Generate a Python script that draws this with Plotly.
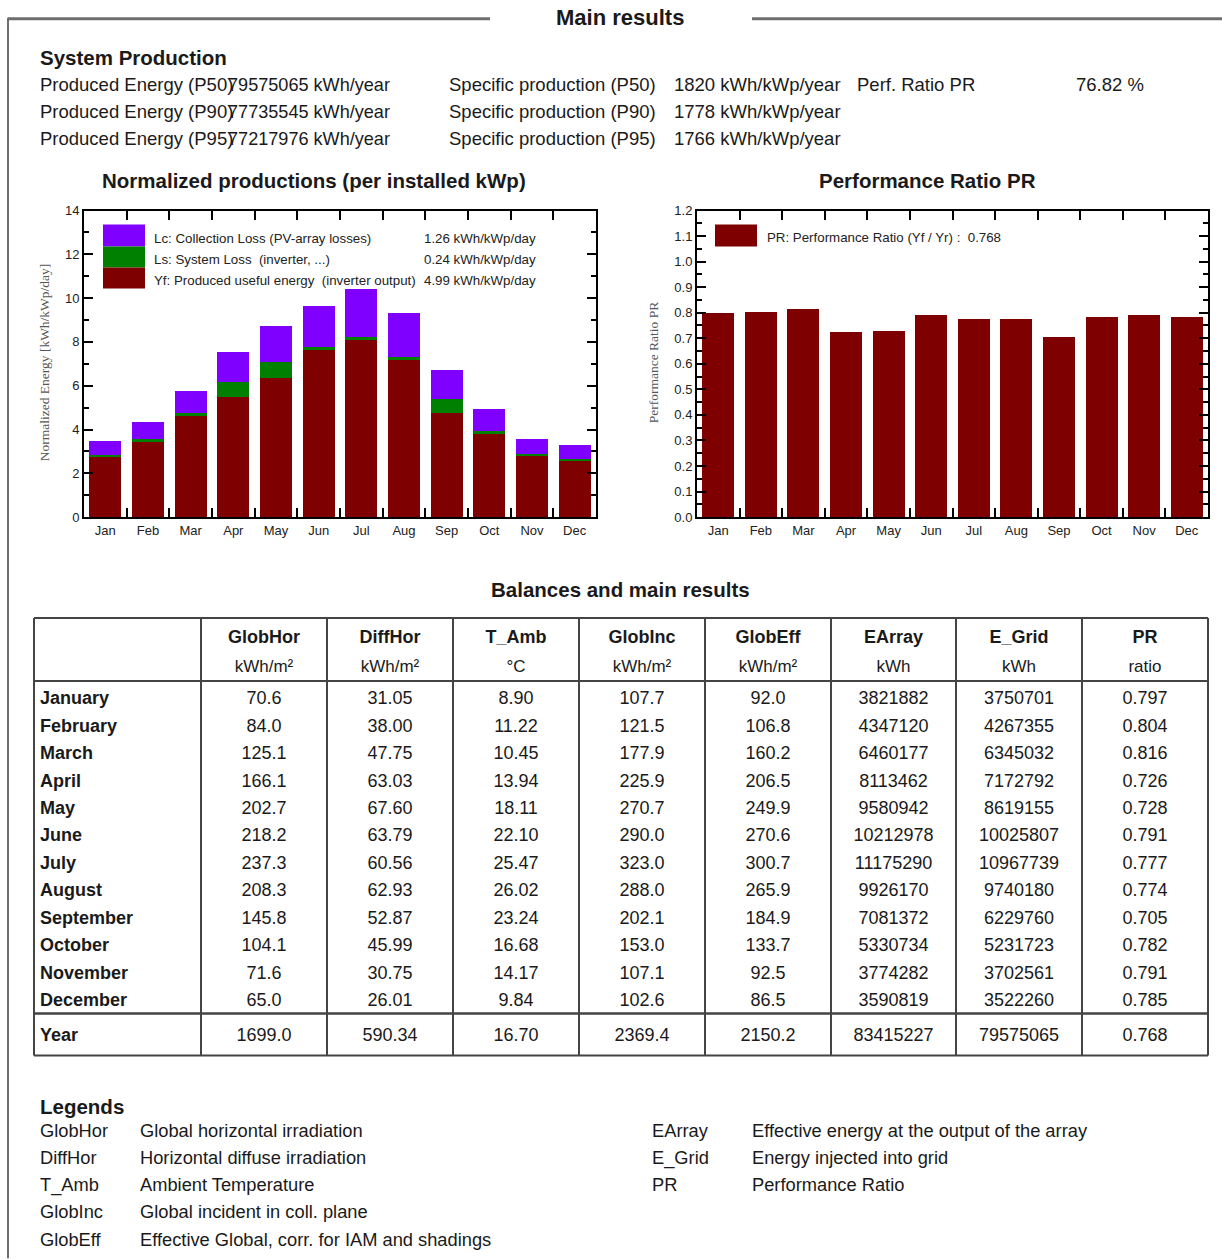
import plotly.graph_objects as go

# ---------------- data ----------------
months_short = ["Jan", "Feb", "Mar", "Apr", "May", "Jun", "Jul", "Aug", "Sep", "Oct", "Nov", "Dec"]
months_long = ["January", "February", "March", "April", "May", "June", "July",
               "August", "September", "October", "November", "December"]

# normalized productions [kWh/kWp/day]
yf_produced = [2.77, 3.49, 4.68, 5.47, 6.36, 7.64, 8.09, 7.19, 4.75, 3.86, 2.82, 2.60]
ls_system_loss = [0.05, 0.07, 0.09, 0.72, 0.71, 0.14, 0.15, 0.14, 0.65, 0.07, 0.05, 0.05]
lc_collection_loss = [0.65, 0.79, 0.97, 1.34, 1.66, 1.88, 2.17, 1.97, 1.34, 1.00, 0.69, 0.66]

# balances table
glob_hor = [70.6, 84.0, 125.1, 166.1, 202.7, 218.2, 237.3, 208.3, 145.8, 104.1, 71.6, 65.0]
diff_hor = [31.05, 38.00, 47.75, 63.03, 67.60, 63.79, 60.56, 62.93, 52.87, 45.99, 30.75, 26.01]
t_amb = [8.90, 11.22, 10.45, 13.94, 18.11, 22.10, 25.47, 26.02, 23.24, 16.68, 14.17, 9.84]
glob_inc = [107.7, 121.5, 177.9, 225.9, 270.7, 290.0, 323.0, 288.0, 202.1, 153.0, 107.1, 102.6]
glob_eff = [92.0, 106.8, 160.2, 206.5, 249.9, 270.6, 300.7, 265.9, 184.9, 133.7, 92.5, 86.5]
e_array = [3821882, 4347120, 6460177, 8113462, 9580942, 10212978, 11175290, 9926170,
           7081372, 5330734, 3774282, 3590819]
e_grid = [3750701, 4267355, 6345032, 7172792, 8619155, 10025807, 10967739, 9740180,
          6229760, 5231723, 3702561, 3522260]
pr_ratio = [0.797, 0.804, 0.816, 0.726, 0.728, 0.791, 0.777, 0.774, 0.705, 0.782, 0.791, 0.785]
year_totals = [1699.0, 590.34, 16.70, 2369.4, 2150.2, 83415227, 79575065, 0.768]

col_names = ["GlobHor", "DiffHor", "T_Amb", "GlobInc", "GlobEff", "EArray", "E_Grid", "PR"]
col_units = ["kWh/m²", "kWh/m²", "°C", "kWh/m²", "kWh/m²", "kWh", "kWh", "ratio"]
col_formats = [".1f", ".2f", ".2f", ".1f", ".1f", "d", "d", ".3f"]

# system production summary
prod_labels = ["Produced Energy (P50)", "Produced Energy (P90)", "Produced Energy (P95)"]
prod_values = ["79575065 kWh/year", "77735545 kWh/year", "77217976 kWh/year"]
spec_labels = ["Specific production (P50)", "Specific production (P90)", "Specific production (P95)"]
spec_values = ["1820 kWh/kWp/year", "1778 kWh/kWp/year", "1766 kWh/kWp/year"]

legend_terms_left = ["GlobHor", "DiffHor", "T_Amb", "GlobInc", "GlobEff"]
legend_defs_left = ["Global horizontal irradiation", "Horizontal diffuse irradiation",
                    "Ambient Temperature", "Global incident in coll. plane",
                    "Effective Global, corr. for IAM and shadings"]
legend_terms_right = ["EArray", "E_Grid", "PR"]
legend_defs_right = ["Effective energy at the output of the array", "Energy injected into grid",
                     "Performance Ratio"]

# ---------------- layout helpers ----------------
W, H = 1222, 1259
FONT = "Liberation Sans, Arial, sans-serif"
SERIF = "Liberation Serif, Times New Roman, serif"
C_YF, C_LS, C_LC = "#7f0000", "#008000", "#8000ff"
# small empirical correction of the vertical page mapping
V_OFF, V_SCALE = 6.2, 0.9894


def px(x):
    return x / W


def py(y):
    return 1 - ((y - V_OFF) / V_SCALE) / H


annotations = []
shapes = []


def text(x, y, s, size=18, bold=False, anchor="left", color="#1a1a1a", family=FONT, angle=0):
    annotations.append(dict(
        x=px(x), y=py(y), xref="paper", yref="paper", text=s, showarrow=False,
        xanchor=anchor, yanchor="middle", textangle=angle,
        xshift=-2 if anchor == "left" else 0,
        font=dict(family=family, size=size, color=color, weight="bold" if bold else "normal")))


def line(x0, y0, x1, y1, color="#444", width=2):
    shapes.append(dict(type="line", xref="paper", yref="paper",
                       x0=px(x0), y0=py(y0), x1=px(x1), y1=py(y1),
                       line=dict(color=color, width=width)))


def box(x0, y0, x1, y1, color):
    shapes.append(dict(type="rect", xref="paper", yref="paper",
                       x0=px(x0), y0=py(y0), x1=px(x1), y1=py(y1),
                       line=dict(width=0), fillcolor=color))


fig = go.Figure()

# ---------------- left chart: normalized productions ----------------
for vals, col, name in [(yf_produced, C_YF, "Yf"), (ls_system_loss, C_LS, "Ls"),
                        (lc_collection_loss, C_LC, "Lc")]:
    fig.add_trace(go.Bar(x=months_short, y=vals, name=name, marker=dict(color=col, line=dict(width=0)),
                         width=0.75, xaxis="x", yaxis="y", hoverinfo="skip"))

# ---------------- right chart: performance ratio ----------------
fig.add_trace(go.Bar(x=months_short, y=pr_ratio, name="PR", marker=dict(color=C_YF, line=dict(width=0)),
                     width=0.75, xaxis="x2", yaxis="y2", hoverinfo="skip"))

# ---------------- table ----------------
PITCH = 27.45
ROW0 = 697
TXT_SHIFT = 3  # text centring offset for scatter text


def row(y):
    return (y - ROW0) / PITCH


col_centers = [264, 390, 516, 642, 768, 893.5, 1019, 1145]
rows = [row(ROW0 + TXT_SHIFT + PITCH * i) for i in range(12)] + [row(1034 + TXT_SHIFT)]
TFONT = 18

fig.add_trace(go.Scatter(x=[40] * 13, y=rows, text=months_long + ["Year"], mode="text",
                         textposition="middle right", xaxis="x3", yaxis="y3", hoverinfo="skip",
                         textfont=dict(family=FONT, size=TFONT, color="#1a1a1a", weight="bold"),
                         cliponaxis=False))
columns = [glob_hor, diff_hor, t_amb, glob_inc, glob_eff, e_array, e_grid, pr_ratio]
for cx, vals, fmt, tot in zip(col_centers, columns, col_formats, year_totals):
    labels = [format(v, fmt) for v in vals] + [format(tot, fmt)]
    fig.add_trace(go.Scatter(x=[cx] * 13, y=rows, text=labels, mode="text",
                             textposition="middle center", xaxis="x3", yaxis="y3", hoverinfo="skip",
                             textfont=dict(family=FONT, size=TFONT, color="#1a1a1a"), cliponaxis=False))
fig.add_trace(go.Scatter(x=col_centers, y=[row(636 + TXT_SHIFT)] * 8, text=col_names, mode="text",
                         textposition="middle center", xaxis="x3", yaxis="y3", hoverinfo="skip",
                         textfont=dict(family=FONT, size=TFONT, color="#1a1a1a", weight="bold"),
                         cliponaxis=False))
fig.add_trace(go.Scatter(x=col_centers, y=[row(665 + TXT_SHIFT)] * 8, text=col_units, mode="text",
                         textposition="middle center", xaxis="x3", yaxis="y3", hoverinfo="skip",
                         textfont=dict(family=FONT, size=17, color="#1a1a1a"), cliponaxis=False))

# table lines
TL, TR, TT, TB = 34, 1208, 618, 1056
for x in [34, 201, 327, 453, 579, 705, 831, 956, 1082, 1208]:
    line(x, TT, x, TB)
line(TL, TT, TR, TT)
line(TL, TB, TR, TB)
line(TL, 681, TR, 681)
line(TL, 1014, TR, 1014, width=2.5)

# ---------------- page frame & texts ----------------
line(8, 18, 490, 18, color="#6e6e6e", width=3)
line(752, 18, 1222, 18, color="#6e6e6e", width=3)
line(8, 17, 8, 1259, color="#6e6e6e", width=2)
text(620, 17, "Main results", size=22, bold=True, anchor="center")

text(40, 57, "System Production", size=20.5, bold=True)
for i in range(3):
    yy = 84 + 27 * i
    text(40, yy, prod_labels[i], size=18.5)
    text(228, yy, prod_values[i], size=18.1)
    text(449, yy, spec_labels[i], size=18.5)
    text(674, yy, spec_values[i], size=18.5)
text(857, 84, "Perf. Ratio PR", size=18.5)
text(1076, 84, "76.82 %", size=18.5)

text(314, 180, "Normalized productions (per installed kWp)", size=20.5, bold=True, anchor="center")
text(927, 180, "Performance Ratio PR", size=20.5, bold=True, anchor="center")
text(44, 362, "Normalized Energy [kWh/kWp/day]", size=13.5, family=SERIF, color="#555",
     anchor="center", angle=-90)
text(653, 363, "Performance Ratio PR", size=13.5, family=SERIF, color="#555",
     anchor="center", angle=-90)

# left chart legend
LF = 13.3
box(103, 224, 145, 246, C_LC)
box(103, 246, 145, 267, C_LS)
box(103, 267, 145, 288, C_YF)
text(154, 238, "Lc: Collection Loss (PV-array losses)", size=LF, color="#222")
text(154, 259, "Ls: System Loss\u00a0\u00a0(inverter, ...)", size=LF, color="#222")
text(154, 280, "Yf: Produced useful energy\u00a0\u00a0(inverter output)", size=LF, color="#222")
text(424, 238, "1.26 kWh/kWp/day", size=LF, color="#222")
text(424, 259, "0.24 kWh/kWp/day", size=LF, color="#222")
text(424, 280, "4.99 kWh/kWp/day", size=LF, color="#222")

# right chart legend
box(715, 224, 757, 246, C_YF)
text(767, 237, "PR: Performance Ratio (Yf / Yr) :\u00a0\u00a00.768", size=LF, color="#222")

text(620, 589, "Balances and main results", size=20.5, bold=True, anchor="center")

text(40, 1107, "Legends", size=20.5, bold=True)
for i, (t, d) in enumerate(zip(legend_terms_left, legend_defs_left)):
    yy = 1131 + 27.25 * i
    text(40, yy, t, size=18.3)
    text(140, yy, d, size=18.3)
for i, (t, d) in enumerate(zip(legend_terms_right, legend_defs_right)):
    yy = 1131 + 27.25 * i
    text(652, yy, t, size=18.3)
    text(752, yy, d, size=18.3)

# ---------------- axes ----------------
tickfont = dict(family=FONT, size=13, color="#222")
common_x = dict(type="category", categoryorder="array", categoryarray=months_short,
                tickson="boundaries", ticks="inside", ticklen=9, tickwidth=1.5, tickcolor="black",
                showline=True, linewidth=2, linecolor="black", mirror="ticks", showgrid=False,
                tickfont=tickfont, range=[-0.5, 11.5], fixedrange=True)
common_y = dict(ticks="inside", ticklen=9, tickwidth=1.5, tickcolor="black", showline=True,
                linewidth=2, linecolor="black", mirror="ticks", showgrid=False, zeroline=False,
                tickfont=tickfont, fixedrange=True)

fig.update_layout(
    width=W, height=H, margin=dict(l=0, r=0, t=0, b=0), autosize=False,
    paper_bgcolor="white", plot_bgcolor="white",
    barmode="stack", bargap=0.25, showlegend=False,
    font=dict(family=FONT, color="#1a1a1a"),
    xaxis=dict(domain=[px(84), px(596)], anchor="y", **common_x),
    yaxis=dict(domain=[py(517), py(210)], anchor="x", range=[0, 14], dtick=2,
               minor=dict(dtick=1, ticks="inside", ticklen=5, tickcolor="black"), **common_y),
    xaxis2=dict(domain=[px(697), px(1208)], anchor="y2", **common_x),
    yaxis2=dict(domain=[py(517), py(210)], anchor="x2", range=[0, 1.2], dtick=0.1, tickformat=".1f",
                minor=dict(dtick=0.05, ticks="inside", ticklen=5, tickcolor="black"), **common_y),
    xaxis3=dict(domain=[px(TL), px(TR)], anchor="y3", range=[TL, TR], visible=False, fixedrange=True),
    yaxis3=dict(domain=[py(TB), py(TT)], anchor="x3", range=[row(TB), row(TT)], visible=False,
                fixedrange=True),
    annotations=annotations, shapes=shapes,
)

fig.write_html(
    "out.html",
    config={"displayModeBar": False},
    post_script="document.body.style.margin='0';document.body.style.padding='0';"
                "document.body.style.overflow='hidden';",
)
